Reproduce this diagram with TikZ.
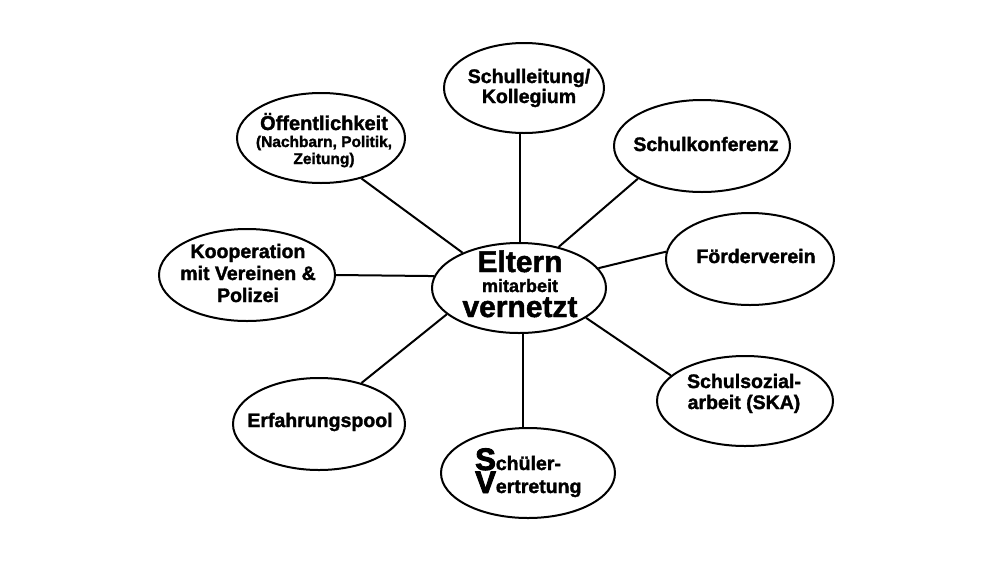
\documentclass[tikz,border=0pt]{standalone}
\usepackage{fontspec}
\setmainfont{Liberation Sans}[BoldFeatures={FakeBold=1.6}]
\newfontfamily\heavyfont{Liberation Sans}[UprightFont=*-Bold,FakeBold=3]
\usetikzlibrary{shapes.geometric}
\begin{document}
\begin{tikzpicture}[x=1pt,y=-1pt,
  bub/.style={draw,line width=2pt,ellipse,inner sep=0pt},
  t/.style={anchor=base,inner sep=0pt,font=\bfseries\fontsize{19.5}{21}\selectfont},
  ts/.style={t,font=\bfseries\fontsize{15.5}{17}\selectfont},
  tb/.style={t,font=\bfseries\fontsize{30}{30}\selectfont},
  tm/.style={t,font=\bfseries\fontsize{18}{20}\selectfont},
  link/.style={line width=2pt}]
\useasboundingbox[fill=white] (0,0) rectangle (1000,563);
% bubbles
\node[bub,minimum width=174pt,minimum height=90pt] (c)   at (519,288) {};
\node[bub,minimum width=160pt,minimum height=90pt] (sl)  at (524,88)  {};
\node[bub,minimum width=176pt,minimum height=92pt] (sk)  at (702,146) {};
\node[bub,minimum width=168pt,minimum height=92pt] (fv)  at (750,259) {};
\node[bub,minimum width=176pt,minimum height=90pt] (ssa) at (745,401) {};
\node[bub,minimum width=174pt,minimum height=90pt] (sv)  at (528,473) {};
\node[bub,minimum width=172pt,minimum height=92pt] (ep)  at (319,424) {};
\node[bub,minimum width=176pt,minimum height=92pt] (ko)  at (247,275) {};
\node[bub,minimum width=168pt,minimum height=90pt] (oe)  at (321,138) {};
% labels
\node[tb] (ct1) at (520,272) {Eltern};
\node[tm] (ct2) at (520,292) {mitarbeit};
\node[tb] (ct3) at (520,317) {vernetzt};
\node[t] (sl1) at (529,83) {Schulleitung/};
\node[t] (sl2) at (529,103) {Kollegium};
\node[t] (sk1) at (706,151) {Schulkonferenz};
\node[t] (fv1) at (756,263) {Förderverein};
\node[t] (ss1) at (744,388) {Schulsozial-};
\node[t] (ss2) at (744,409) {arbeit (SKA)};
\node[t,anchor=base west] (sv1) at (475,470) {{\heavyfont\fontsize{31}{31}\selectfont S}chüler-};
\node[t,anchor=base west] (sv2) at (475,493) {{\heavyfont\fontsize{31}{31}\selectfont V}ertretung};
\node[t] (ep1) at (320,427) {Erfahrungspool};
\node[t] (ko1) at (248,258) {Kooperation};
\node[t] (ko2) at (248,280) {mit Vereinen \&};
\node[t] (ko3) at (248,302) {Polizei};
\node[t,font=\bfseries\fontsize{20}{21}\selectfont] (oe1) at (324,130) {Öffentlichkeit};
\node[ts] (oe2) at (324,147) {(Nachbarn, Politik,};
\node[ts] (oe3) at (324,164) {Zeitung)};
% connectors
\draw[link] (oe.315) -- (c.148);
\draw[link] (c.north -| 520,0) -- (sl.south -| 520,0);
\draw[link] (sk.207) -- (c.46);
\draw[link] (fv.175) -- (c.14);
\draw[link] (ssa.161) -- (c.336);
\draw[link] (c.south -| 523,0) -- (sv.north -| 523,0);
\draw[link] (ep.44) -- (c.200);
\draw[link] (ko.east) -- (c.172);
\end{tikzpicture}
\end{document}
